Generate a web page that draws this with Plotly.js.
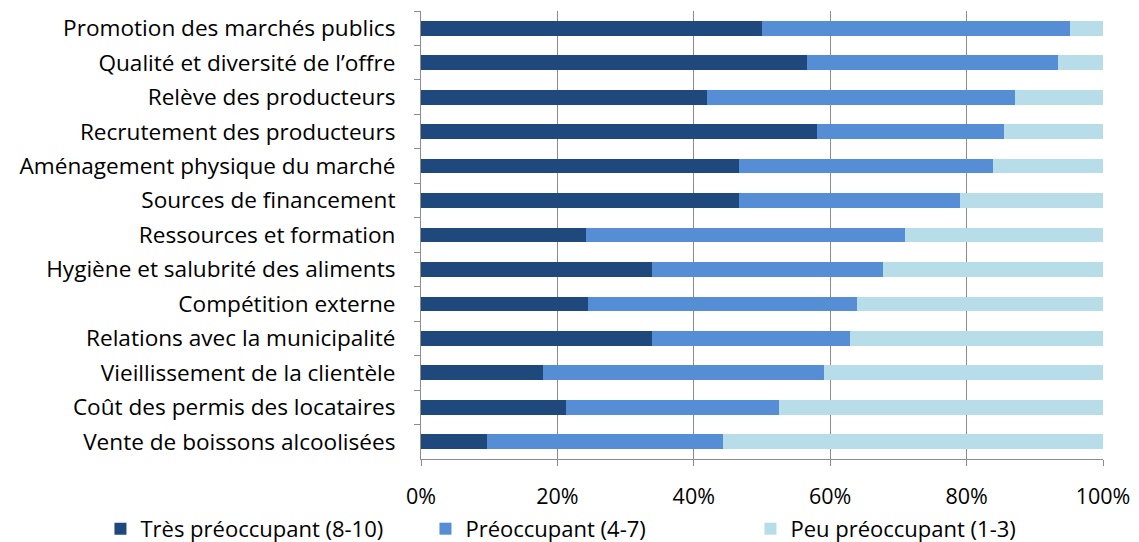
<!DOCTYPE html>
<html>
<head>
<meta charset="utf-8">
<script src="https://cdn.plot.ly/plotly-3.0.1.min.js"></script>
<style>html,body{margin:0;padding:0;background:#fff;}#chart{width:1139px;height:542px;}</style>
</head>
<body>
<div id="chart"></div>
<script>
const categories = [
  "Promotion des marchés publics",
  "Qualité et diversité de l’offre",
  "Relève des producteurs",
  "Recrutement des producteurs",
  "Aménagement physique du marché",
  "Sources de financement",
  "Ressources et formation",
  "Hygiène et salubrité des aliments",
  "Compétition externe",
  "Relations avec la municipalité",
  "Vieillissement de la clientèle",
  "Coût des permis des locataires",
  "Vente de boissons alcoolisées"
];
const tresPreoccupant = [50.0, 56.6, 42.0, 58.0, 46.7, 46.7, 24.2, 33.9, 24.5, 33.9, 17.9, 21.3, 9.7];
const preoccupant     = [45.2, 36.8, 45.1, 27.5, 37.2, 32.4, 46.8, 33.8, 39.4, 29.0, 41.2, 31.2, 34.6];
const peuPreoccupant  = [4.8, 6.6, 12.9, 14.5, 16.1, 20.9, 29.0, 32.3, 36.1, 37.1, 40.9, 47.5, 55.7];
const seriesNames = ["Très préoccupant (8-10)", "Préoccupant (4-7)", "Peu préoccupant (1-3)"];
const seriesColors = ["#1F497D", "#558ED5", "#B7DEE8"];
const xTickVals = [0, 20, 40, 60, 80, 100];
const xTickText = ["0%", "20%", "40%", "60%", "80%", "100%"];

const font = "'Open Sans', 'Noto Sans', sans-serif";
const data = [tresPreoccupant, preoccupant, peuPreoccupant].map((vals, i) => ({
  type: "bar",
  orientation: "h",
  y: categories,
  x: vals,
  name: seriesNames[i],
  marker: {color: seriesColors[i], line: {width: 0}},
  hoverinfo: "x+name"
}));

const layout = {
  width: 1139, height: 542,
  barmode: "stack",
  bargap: 0.57,
  paper_bgcolor: "#fff", plot_bgcolor: "#fff",
  margin: {l: 421, r: 36, t: 11, b: 83, autoexpand: false},
  font: {family: font, size: 22, color: "#000"},
  xaxis: {
    range: [0, 100],
    automargin: false,
    tickvals: xTickVals, ticktext: xTickText,
    showgrid: true, gridcolor: "#8C8C8C", gridwidth: 1,
    showline: true, linecolor: "#8C8C8C", linewidth: 1,
    ticks: "outside", ticklen: 6, tickcolor: "#8C8C8C",
    ticklabelstandoff: 12,
    zeroline: false,
    tickfont: {size: 21.5, family: font}
  },
  yaxis: {
    type: "category",
    autorange: "reversed",
    automargin: false,
    showline: true, linecolor: "#8C8C8C", linewidth: 1,
    ticks: "outside", ticklen: 6, tickcolor: "#8C8C8C",
    tickson: "boundaries",
    ticklabelstandoff: 20,
    showgrid: false,
    tickfont: {size: 22.6, family: font}
  },
  showlegend: true,
  legend: {
    orientation: "h",
    x: -0.47, xanchor: "left",
    y: -0.156, yanchor: "middle",
    font: {size: 22, family: font},
    itemwidth: 30,
    entrywidth: 280,
    traceorder: "normal",
    bgcolor: "rgba(0,0,0,0)"
  }
};

Plotly.newPlot("chart", data, layout, {displayModeBar: false, staticPlot: true});
</script>
</body>
</html>
